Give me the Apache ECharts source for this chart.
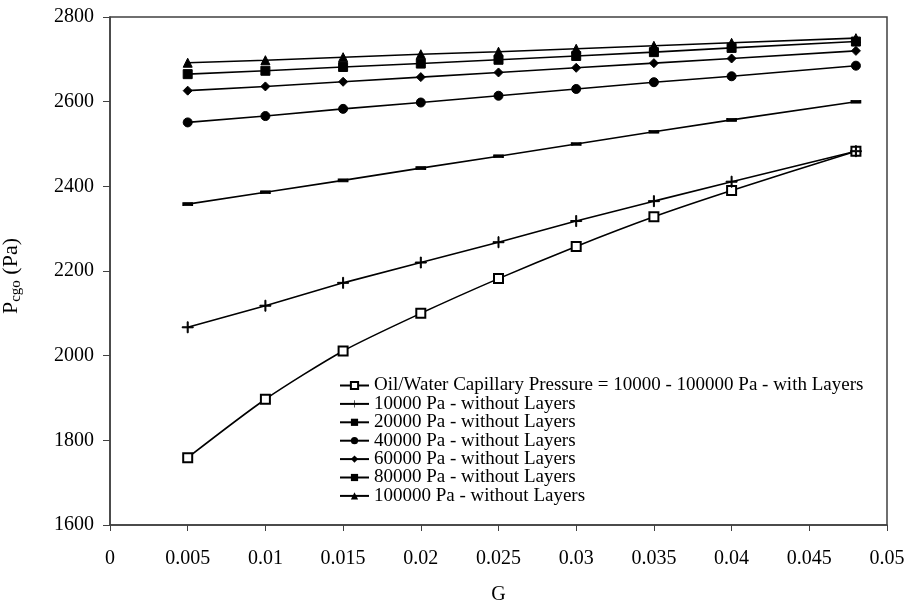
<!DOCTYPE html>
<html><head><meta charset="utf-8">
<script src="https://cdn.jsdelivr.net/npm/echarts@6/dist/echarts.min.js"></script>
<style>html,body{margin:0;padding:0;background:#fff}#c{width:905px;height:603px}</style>
</head><body><div id="c"></div>
<script>
const G = [0.005, 0.01, 0.015, 0.02, 0.025, 0.03, 0.035, 0.04, 0.048];
const names = [
  'Oil/Water Capillary Pressure = 10000 - 100000 Pa - with Layers',
  '10000 Pa - without Layers',
  '20000 Pa - without Layers',
  '40000 Pa - without Layers',
  '60000 Pa - without Layers',
  '80000 Pa - without Layers',
  '100000 Pa - without Layers'
];
const withLayers = [1759, 1897, 2011, 2100, 2182, 2258, 2328, 2390, 2483];
const p10000 = [2067, 2118, 2172, 2220, 2268, 2318, 2365, 2411, 2483];
const p20000 = [2358, 2386, 2414, 2443, 2471, 2500, 2529, 2557, 2600];
const p40000 = [2551, 2566, 2583, 2598, 2614, 2630, 2646, 2660, 2685];
const p60000 = [2626, 2636, 2647, 2658, 2669, 2680, 2691, 2702, 2720];
const p80000 = [2665, 2673, 2682, 2690, 2699, 2708, 2717, 2727, 2742];
const p100000 = [2692, 2698, 2705, 2712, 2718, 2725, 2732, 2739, 2750];

const FONT = '"Liberation Serif", "DejaVu Serif", serif';
const pair = arr => G.map((g, i) => [g, arr[i]]);
const PLUS = 'path://M5,0H6V5H11V6H6V11H5V6H0V5H5Z';

function mk(name, data, symbol, size, extra) {
  return Object.assign({
    name, type: 'line', data: pair(data), symbol, symbolSize: size,
    showAllSymbol: true,
    lineStyle: {color: '#000', width: 1.6},
    itemStyle: {color: '#000', borderColor: '#000'},
    emphasis: {disabled: true},
    z: 3
  }, extra || {});
}

const chart = echarts.init(document.getElementById('c'));
chart.setOption({
  animation: false,
  backgroundColor: '#fff',
  grid: {left: 110, right: 18, top: 17, bottom: 78, containLabel: false, outerBoundsMode: 'none',
    show: true, borderColor: '#404040', borderWidth: 1.5},
  legend: {
    orient: 'vertical', left: 334, top: 371,
    itemWidth: 29, itemHeight: 9, itemGap: -0.6,
    textStyle: {fontFamily: FONT, fontSize: 19, color: '#000', lineHeight: 18},
    data: names
  },
  xAxis: {
    type: 'value', min: 0, max: 0.05, interval: 0.005,
    name: 'G', nameLocation: 'middle', nameGap: 60,
    nameTextStyle: {fontFamily: FONT, fontSize: 20, color: '#000'},
    axisLine: {lineStyle: {color: '#404040', width: 1.5}},
    axisTick: {show: true, length: 6, lineStyle: {color: '#404040'}},
    splitLine: {show: false},
    axisLabel: {fontFamily: FONT, fontSize: 20, color: '#000', margin: 24,
      formatter: v => String(parseFloat(v.toFixed(3)))}
  },
  yAxis: {
    type: 'value', min: 1600, max: 2800, interval: 200,
    name: '{a|P}{b|cgo}{a| (Pa)}', nameLocation: 'middle', nameGap: 86, nameRotate: 90,
    nameTextStyle: {padding: [0, 10, 0, 0], rich: {
      a: {fontFamily: FONT, fontSize: 22, color: '#000'},
      b: {fontFamily: FONT, fontSize: 15, color: '#000', verticalAlign: 'bottom', padding: [10, 0, 0, 0]}
    }},
    axisLine: {show: true, lineStyle: {color: '#404040', width: 1.5}},
    axisTick: {show: true, length: 7, lineStyle: {color: '#404040'}},
    splitLine: {show: false},
    axisLabel: {fontFamily: FONT, fontSize: 20, color: '#000', margin: 16, formatter: v => String(v)}
  },
  series: [
    mk(names[0], withLayers, 'emptyRect', 9, {smooth: 0.25, itemStyle: {color: '#000', borderColor: '#000', borderWidth: 1.5}}),
    mk(names[1], p10000, PLUS, 11),
    mk(names[2], p20000, 'rect', [9, 3]),
    mk(names[3], p40000, 'circle', 9),
    mk(names[4], p60000, 'diamond', 9),
    mk(names[5], p80000, 'rect', 9),
    mk(names[6], p100000, 'triangle', 9)
  ]
});
</script></body></html>
